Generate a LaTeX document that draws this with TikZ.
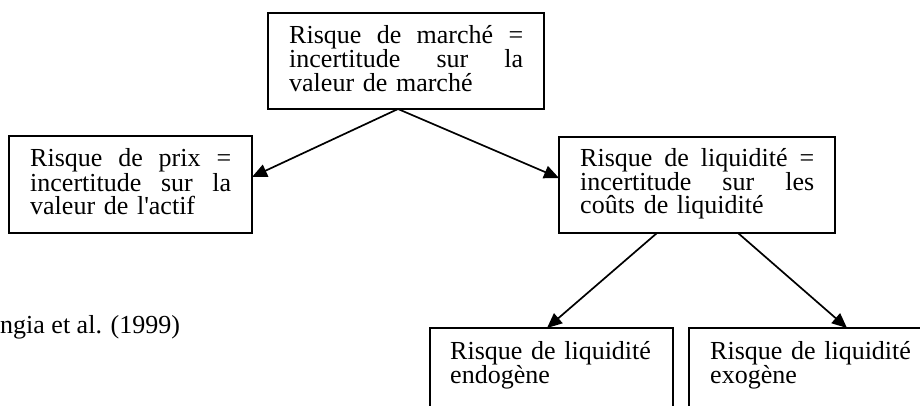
\documentclass[tikz,border=0pt]{standalone}
\usepackage{fontspec}
\setmainfont{Liberation Serif}
\usetikzlibrary{arrows.meta}
\begin{document}
\begin{tikzpicture}[x=1pt,y=-1pt,
 box/.style={draw, line width=1.8pt, inner sep=0pt, outer sep=0pt, anchor=north west},
 txt/.style={inner sep=0pt, anchor=base west, align=left, font=\fontsize{26}{23.2}\selectfont},
 arr/.style={line width=1.7pt, -{Triangle[length=15pt,width=13pt]}}]
\useasboundingbox (0,0) rectangle (920,405);
\clip (0,0) rectangle (920,405);
% boxes
\node[box, minimum width=276pt, minimum height=96pt] (top) at (268,13) {};
\node[box, minimum width=243pt, minimum height=97pt] (left) at (9,136) {};
\node[box, minimum width=276pt, minimum height=96pt] (right) at (559,137) {};
\node[box, minimum width=243pt, minimum height=96pt] (bl) at (430,328) {};
\node[box, minimum width=243pt, minimum height=96pt] (br) at (689,328) {};
% texts
\node[txt, text width=234pt] (ttop) at (289,43.3) {Risque\hfill de\hfill marché\hfill =\\incertitude\hfill sur\hfill la\\valeur de marché};
\node[txt, text width=201pt] (tleft) at (30,166.7) {Risque\hfill de\hfill prix\hfill =\\incertitude\hfill sur\hfill la\\valeur de l\textquotesingle actif};
\node[txt, text width=234pt] (tright) at (580,166) {Risque\hfill de\hfill liquidité\hfill =\\incertitude\hfill sur\hfill les\\coûts de liquidité};
\node[txt, text width=220pt] (tbl) at (450,359.3) {Risque de liquidité\\endogène};
\node[txt, text width=220pt] (tbr) at (710,359.3) {Risque de liquidité\\exogène};
\node[txt] (src) at (0,333.3) {ngia et al. (1999)};
% connectors
\draw[arr] ([xshift=-8pt]top.south) -- ([yshift=7.5pt]left.east);
\draw[arr] ([xshift=-8pt]top.south) -- ([yshift=7pt]right.west);
\draw[arr] ([xshift=-40pt]right.south) -- ([xshift=-4.5pt]bl.north);
\draw[arr] ([xshift=41pt]right.south) -- ([xshift=36.5pt]br.north);
\end{tikzpicture}
\end{document}
